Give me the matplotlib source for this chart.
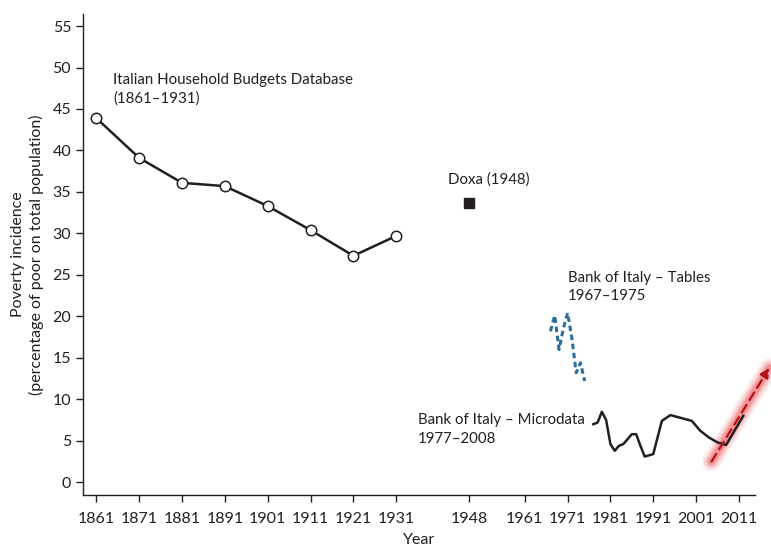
import matplotlib.pyplot as plt

plt.rcParams['font.family'] = ['Lato', 'DejaVu Sans']

# Italian Household Budgets Database (1861-1931)
ihb_years = [1861, 1871, 1881, 1891, 1901, 1911, 1921, 1931]
ihb_vals = [43.9, 39.1, 36.1, 35.7, 33.3, 30.4, 27.3, 29.7]

# Doxa (1948)
doxa_year = 1948
doxa_val = 33.7

# Bank of Italy - Tables (1967-1975)
boi_tab_years = [1967, 1968, 1969, 1970, 1971, 1972, 1973, 1974, 1975]
boi_tab_vals = [18.2, 20.1, 16.0, 18.5, 20.4, 17.4, 13.2, 14.4, 12.2]

# Bank of Italy - Microdata (1977-2008) plus later points
boi_mic_years = [1977, 1978, 1979, 1980, 1981, 1982, 1983, 1984, 1986, 1987,
                 1988, 1989, 1991, 1993, 1995, 2000, 2002, 2004, 2006, 2008, 2012]
boi_mic_vals = [7.0, 7.2, 8.5, 7.5, 4.6, 3.8, 4.4, 4.6, 5.8, 5.8,
                4.4, 3.1, 3.4, 7.4, 8.1, 7.4, 6.2, 5.4, 4.8, 4.5, 8.0]

# trend arrow
arrow_start = (2004.6, 2.5)
arrow_end = (2018.1, 13.8)

xticks = [1861, 1871, 1881, 1891, 1901, 1911, 1921, 1931, 1948,
          1961, 1971, 1981, 1991, 2001, 2011]
yticks = list(range(0, 56, 5))

fig = plt.figure(figsize=(7.71, 5.49), dpi=100)
ax = fig.add_axes([0.1077, 0.0984, 0.8713, 0.8761])

ink = '#231f20'

ax.plot(ihb_years, ihb_vals, color=ink, lw=1.8, marker='o', ms=7.5,
        mfc='white', mec=ink, mew=1.1, zorder=3)
ax.plot([doxa_year], [doxa_val], marker='s', ms=7, color=ink, ls='none')
ax.plot(boi_tab_years, boi_tab_vals, color='#2b6f9f', lw=2.2,
        ls=(0, (1.8, 1.2)))
ax.plot(boi_mic_years, boi_mic_vals, color=ink, lw=1.8)

# glowing red band behind the arrow
for w, a in [(14, 0.08), (11, 0.12), (8, 0.18), (5, 0.3)]:
    ax.plot([arrow_start[0], arrow_end[0]], [arrow_start[1], arrow_end[1]],
            color='#e8383d', lw=w, alpha=a, solid_capstyle='round',
            clip_on=False, zorder=1)
ax.annotate('', xy=arrow_end, xytext=arrow_start, annotation_clip=False,
            arrowprops=dict(arrowstyle='-|>', color='#b3121b', lw=1.6,
                            ls=(0, (4, 2.5)), mutation_scale=14,
                            shrinkA=0, shrinkB=0), zorder=4)

fs = 10.8
ax.text(1865, 49.3, 'Italian Household Budgets Database\n(1861–1931)',
        fontsize=fs, color=ink, va='top', ha='left', linespacing=1.4)
ax.text(1952.7, 37.4, 'Doxa (1948)', fontsize=fs, color=ink,
        va='top', ha='center')
ax.text(1971.1, 25.5, 'Bank of Italy – Tables\n1967–1975', fontsize=fs,
        color=ink, va='top', ha='left', linespacing=1.4)
ax.text(1936.1, 8.3, 'Bank of Italy – Microdata\n1977–2008', fontsize=fs,
        color=ink, va='top', ha='left', linespacing=1.4)

ax.set_xlim(1857.9, 2014.7)
ax.set_ylim(-1.53, 56.45)
ax.set_xticks(xticks)
ax.set_yticks(yticks)
ax.tick_params(labelsize=11.5, colors=ink, length=5, width=1)
ax.tick_params(axis='x', pad=7)
ax.spines['top'].set_visible(False)
ax.spines['right'].set_visible(False)
for s in ['left', 'bottom']:
    ax.spines[s].set_color(ink)
    ax.spines[s].set_linewidth(1)

ax.set_xlabel('Year', fontsize=11.5, color=ink, labelpad=5)
ax.set_ylabel('Poverty incidence\n(percentage of poor on total population)',
              fontsize=11.5, color=ink, labelpad=6, linespacing=1.3)

fig.savefig('out.png', dpi=100)
